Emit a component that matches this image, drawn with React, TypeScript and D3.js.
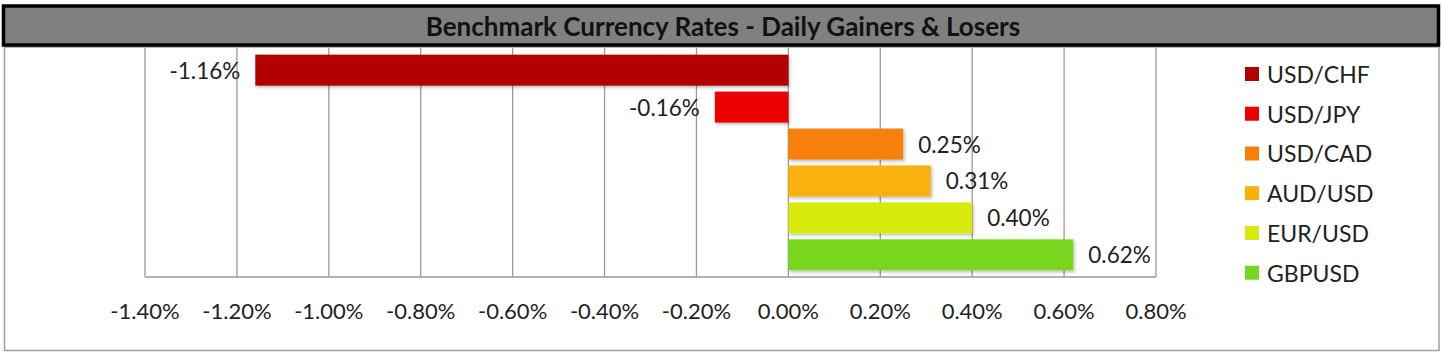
import React from "react";
import * as d3 from "d3";

const TITLE = "Benchmark Currency Rates - Daily Gainers & Losers";
const pairs = ["USD/CHF", "USD/JPY", "USD/CAD", "AUD/USD", "EUR/USD", "GBPUSD"];
const changes = [-0.0116, -0.0016, 0.0025, 0.0031, 0.004, 0.0062];
const colors = ["#B30000", "#EC0000", "#F7800A", "#F9B10A", "#D8EA0C", "#78D61E"];
const tickValues = [-0.014, -0.012, -0.01, -0.008, -0.006, -0.004, -0.002, 0, 0.002, 0.004, 0.006, 0.008];

const W = 1445;
const H = 356;
const FONT = "Lato, 'Open Sans', sans-serif";

const loc = d3.formatLocale({ decimal: ".", thousands: ",", grouping: [3], currency: ["$", ""], minus: "-" });
const pct = loc.format(".2%");

export default function App() {
  const plot = { left: 145, right: 1156, top: 48, bottom: 277 };
  const x = d3.scaleLinear().domain([-0.014, 0.008]).range([plot.left, plot.right]);
  const y = d3
    .scaleBand<string>()
    .domain(pairs)
    .range([plot.top, plot.bottom])
    .paddingInner(0.16)
    .paddingOuter(0.18);
  const legendY = d3.scalePoint<string>().domain(pairs).range([74, 272.7]);

  return (
    <svg
      width={W}
      height={H}
      style={{ position: "absolute", left: 0, top: 0, background: "#fff" }}
      fontFamily={FONT}
    >
      <defs>
        <filter id="sh" x="-5%" y="-20%" width="110%" height="160%">
          <feDropShadow dx="1.5" dy="2" stdDeviation="1.5" floodColor="#000" floodOpacity="0.25" />
        </filter>
      </defs>
      {/* chart box */}
      <rect x={4.5} y={47} width={1434.5} height={303.5} fill="#fff" stroke="#a0a0a0" strokeWidth={1.5} />
      {/* title bar */}
      <rect x={3.5} y={6} width={1435} height={39} fill="#808080" stroke="#000" strokeWidth={3.5} />
      <text x={723} y={26} textAnchor="middle" dominantBaseline="central" fontWeight="bold" fontSize={26} fill="#111">
        {TITLE}
      </text>
      {/* gridlines */}
      {tickValues.map((t) => (
        <line key={t} x1={x(t)} x2={x(t)} y1={plot.top} y2={plot.bottom} stroke="#9a9a9a" strokeWidth={1.3} />
      ))}
      <line x1={plot.left} x2={plot.right} y1={plot.bottom} y2={plot.bottom} stroke="#9a9a9a" strokeWidth={1.3} />
      {/* tick labels */}
      {tickValues.map((t) => (
        <text key={"l" + t} x={x(t)} y={310} textAnchor="middle" dominantBaseline="central" fontSize={22} fill="#222">
          {pct(t)}
        </text>
      ))}
      {/* bars */}
      {pairs.map((p, i) => {
        const v = changes[i];
        const x0 = x(Math.min(0, v));
        const x1 = x(Math.max(0, v));
        const cy = (y(p) as number) + y.bandwidth() / 2;
        return (
          <g key={p}>
            <rect x={x0} y={y(p)} width={x1 - x0} height={y.bandwidth()} fill={colors[i]} filter="url(#sh)" />
            <text
              x={v < 0 ? x0 - 15 : x1 + 15}
              y={cy}
              textAnchor={v < 0 ? "end" : "start"}
              dominantBaseline="central"
              fontSize={22.5}
              fill="#222"
            >
              {pct(v)}
            </text>
          </g>
        );
      })}
      {/* legend */}
      {pairs.map((p, i) => (
        <g key={"lg" + p} transform={`translate(0,${legendY(p)})`}>
          <rect x={1245} y={-7} width={14} height={14} fill={colors[i]} />
          <text x={1267} y={0} dominantBaseline="central" fontSize={23} fill="#222">
            {p}
          </text>
        </g>
      ))}
    </svg>
  );
}
